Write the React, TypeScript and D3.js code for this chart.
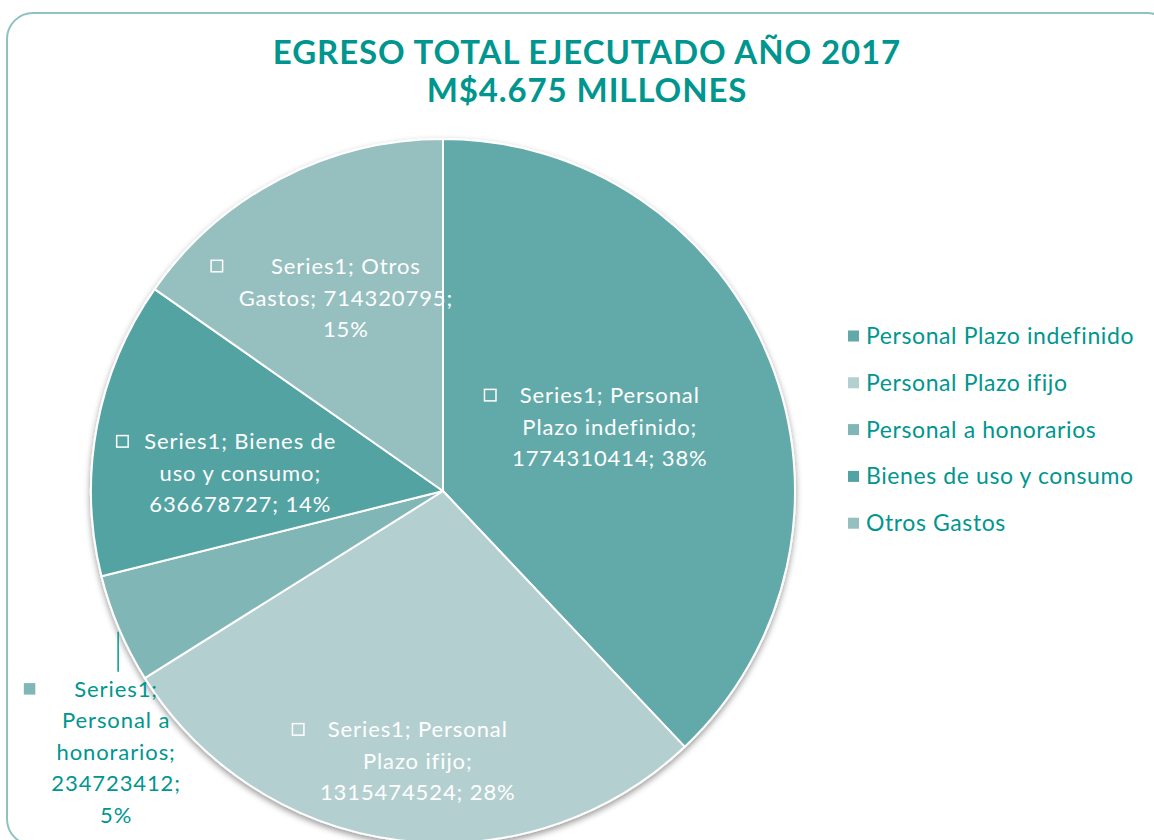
import React, { useEffect, useRef } from "react";
import * as d3 from "d3";

const categories = [
  "Personal Plazo indefinido",
  "Personal Plazo ifijo",
  "Personal a honorarios",
  "Bienes de uso y consumo",
  "Otros Gastos",
];
const values = [1774310414, 1315474524, 234723412, 636678727, 714320795];
const seriesName = "Series1";
const titleLines = ["EGRESO TOTAL EJECUTADO AÑO 2017", "M$4.675 MILLONES"];

const colors = ["#62aaa9", "#b4cfd0", "#80b6b5", "#52a3a3", "#96bfbf"];
// words per wrapped line of each data label
const labelWrap = [[2, 2, 2], [2, 2, 2], [1, 2, 1, 1, 1], [3, 3, 2], [2, 2, 1]];
// label placement: radius fraction + nudge; outside = label outside with leader
const labelLayout = [
  { f: 0.51, dx: 0, dy: 2, outside: false },
  { f: 0.77, dx: 9, dy: 1, outside: false },
  { f: 1.0, dx: -3, dy: 123, outside: true },
  { f: 0.58, dx: -2, dy: 19, outside: false },
  { f: 0.61, dx: 2, dy: -3, outside: false },
];

const W = 1154;
const H = 840;
const TEAL = "#00968f";
const FONT = "Lato, 'Open Sans', sans-serif";

export default function App() {
  const ref = useRef<SVGSVGElement | null>(null);

  useEffect(() => {
    const svg = d3.select(ref.current);
    svg.selectAll("*").remove();

    const defs = svg.append("defs");
    const filt = defs
      .append("filter")
      .attr("id", "shadow")
      .attr("x", "-10%")
      .attr("y", "-10%")
      .attr("width", "120%")
      .attr("height", "120%");
    filt
      .append("feDropShadow")
      .attr("dx", 0)
      .attr("dy", 3)
      .attr("stdDeviation", 3)
      .attr("flood-color", "#000")
      .attr("flood-opacity", 0.4);

    // frame
    svg
      .append("rect")
      .attr("x", 7)
      .attr("y", 13)
      .attr("width", 1166)
      .attr("height", 832)
      .attr("rx", 26)
      .attr("fill", "#fff")
      .attr("stroke", "#8fc1c1")
      .attr("stroke-width", 2);

    // title
    const title = svg
      .append("text")
      .attr("text-anchor", "middle")
      .attr("fill", TEAL)
      .attr("font-family", FONT)
      .attr("font-weight", 700)
      .attr("font-size", 33)
      .attr("letter-spacing", 0.9);
    titleLines.forEach((t, i) => {
      title
        .append("tspan")
        .attr("x", 587)
        .attr("y", 64 + i * 38)
        .text(t);
    });

    // pie
    const cx = 443;
    const cy = 491;
    const R = 352;
    const total = d3.sum(values);
    const pie = d3
      .pie<number>()
      .sort(null)
      .value((d) => d)
      .startAngle(0)
      .endAngle(2 * Math.PI);
    const arcs = pie(values);
    const arc = d3.arc<d3.PieArcDatum<number>>().innerRadius(0).outerRadius(R);

    const g = svg.append("g").attr("transform", `translate(${cx},${cy})`);
    g.append("g")
      .attr("filter", "url(#shadow)")
      .selectAll("path")
      .data(arcs)
      .join("path")
      .attr("d", arc as any)
      .attr("fill", (_, i) => colors[i])
      .attr("stroke", "#fff")
      .attr("stroke-width", 2)
      .attr("stroke-linejoin", "round");

    // data labels
    const lineH = 31.5;
    const fs = 22;
    arcs.forEach((a, i) => {
      const mid = (a.startAngle + a.endAngle) / 2;
      const lay = labelLayout[i];
      const px = Math.sin(mid) * R * lay.f;
      const py = -Math.cos(mid) * R * lay.f;
      const lx = px + lay.dx;
      const ly = py + lay.dy;
      const pct = Math.round((values[i] / total) * 100);
      const words = `${seriesName}; ${categories[i]}; ${values[i]}; ${pct}%`.split(" ");
      const lines: string[] = [];
      let k = 0;
      labelWrap[i].forEach((n) => {
        lines.push(words.slice(k, k + n).join(" "));
        k += n;
      });
      const color = lay.outside ? TEAL : "#ffffff";
      const n = lines.length;
      const top = ly - ((n - 1) * lineH) / 2;

      if (lay.outside) {
        g.append("line")
          .attr("x1", px - 1)
          .attr("x2", px - 1)
          .attr("y1", py + 3)
          .attr("y2", py + 43)
          .attr("stroke", TEAL)
          .attr("stroke-width", 1.5);
      }

      const txt = g
        .append("text")
        .attr("text-anchor", "middle")
        .attr("fill", color)
        .attr("font-family", FONT)
        .attr("font-size", fs)
        .attr("letter-spacing", 0.9);
      const spans: SVGTSpanElement[] = [];
      lines.forEach((l, j) => {
        const sp = txt
          .append("tspan")
          .attr("x", lx)
          .attr("y", top + j * lineH + 8)
          .text(l);
        spans.push(sp.node() as SVGTSpanElement);
      });
      let maxW = 0;
      spans.forEach((s) => {
        maxW = Math.max(maxW, s.getComputedTextLength());
      });
      const boxLeft = lx - maxW / 2;
      const ks = 11.5;
      const key = g
        .append("rect")
        .attr("x", boxLeft - 27.5)
        .attr("y", top - ks / 2)
        .attr("width", ks)
        .attr("height", ks);
      if (lay.outside) {
        key.attr("fill", colors[i]);
      } else {
        key.attr("fill", "none").attr("stroke", "#fff").attr("stroke-width", 1.5);
      }
    });

    // legend
    const legend = svg.append("g").attr("transform", "translate(848,336)");
    categories.forEach((c, i) => {
      const row = legend.append("g").attr("transform", `translate(0,${i * 46.8})`);
      row
        .append("rect")
        .attr("x", 0)
        .attr("y", -5.5)
        .attr("width", 11)
        .attr("height", 11)
        .attr("fill", colors[i]);
      row
        .append("text")
        .attr("x", 18)
        .attr("y", 8)
        .attr("fill", TEAL)
        .attr("font-family", FONT)
        .attr("font-size", 23)
        .attr("letter-spacing", 0.6)
        .text(c);
    });
  }, []);

  return (
    <div style={{ position: "absolute", left: 0, top: 0 }}>
      <svg ref={ref} width={W} height={H} style={{ display: "block" }} />
    </div>
  );
}
